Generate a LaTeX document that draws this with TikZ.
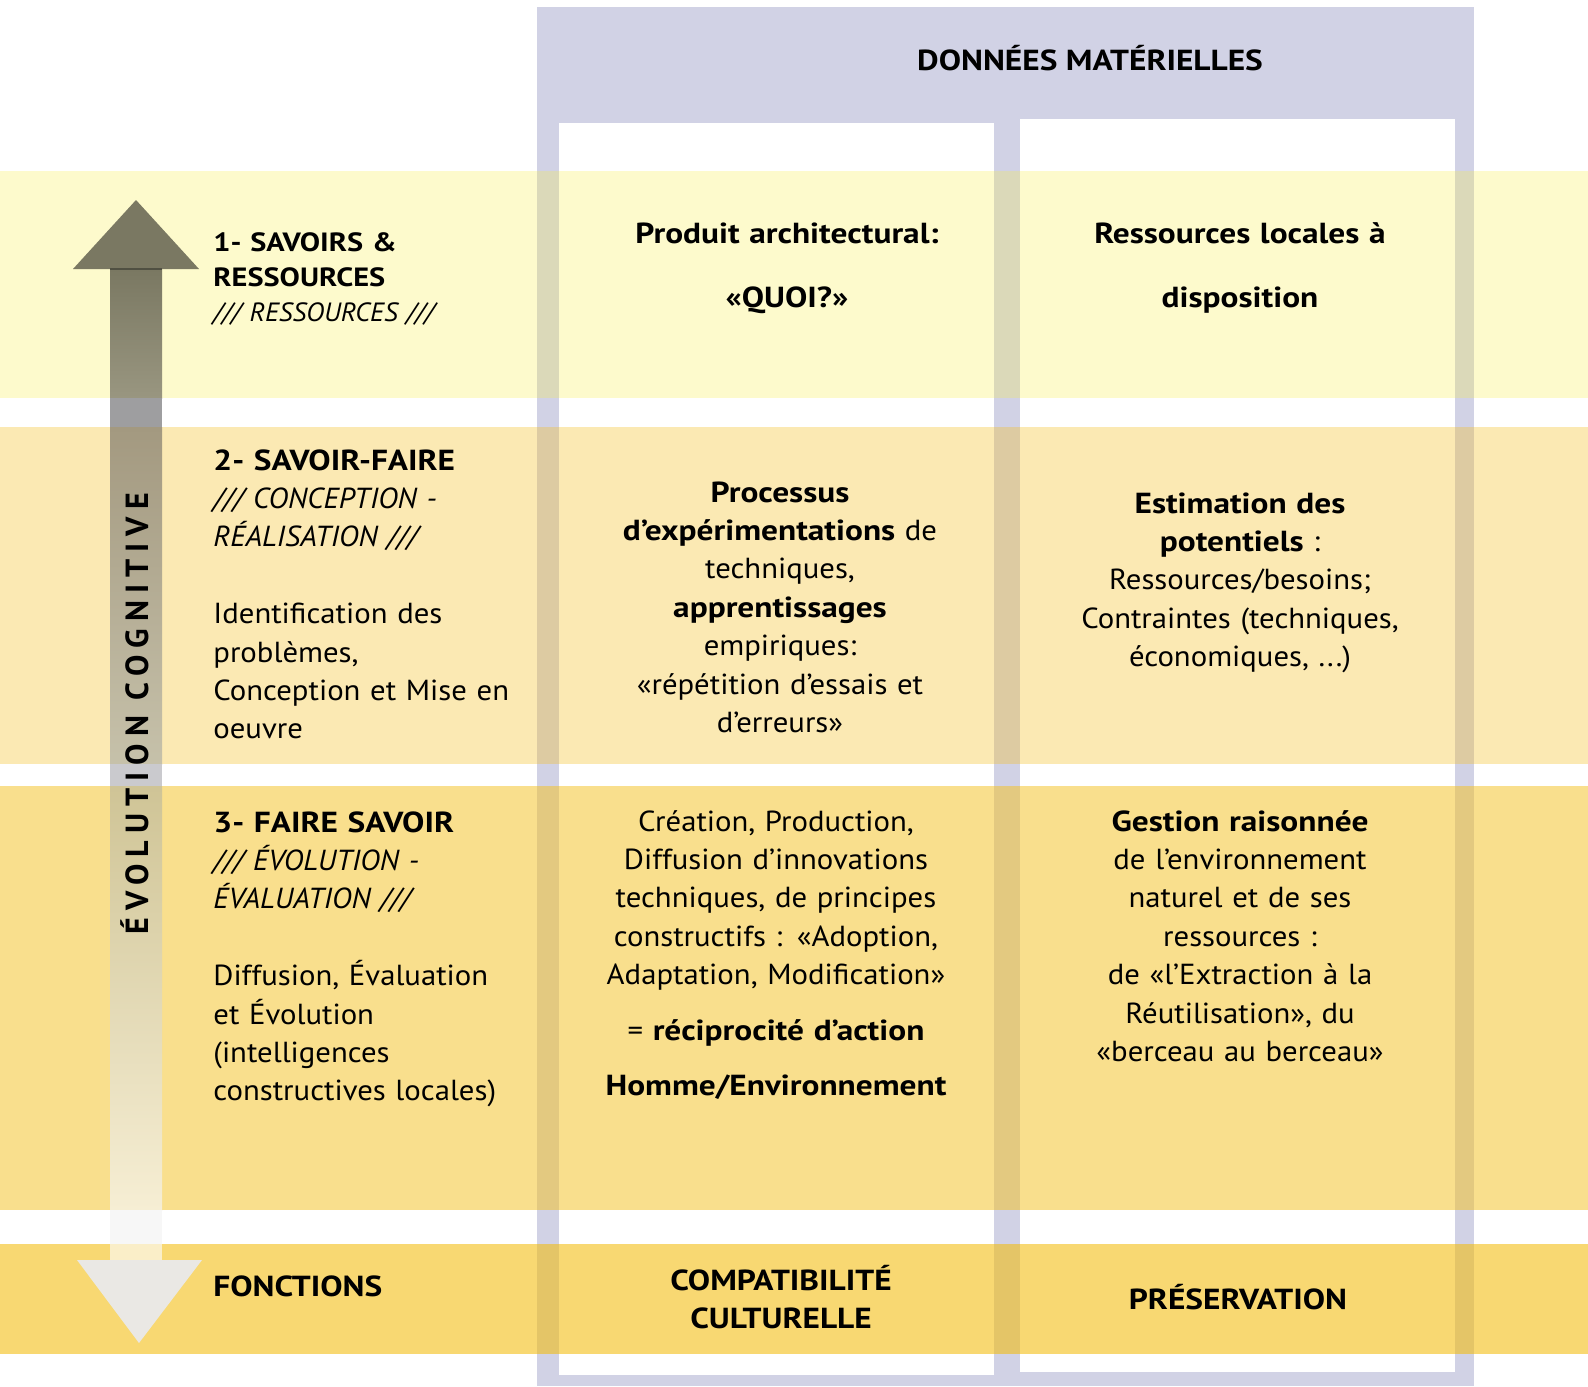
\documentclass[tikz,border=0pt]{standalone}
\usepackage{fontspec}
\setmainfont{PT Sans}[UprightFeatures={FakeStretch=1.06}, BoldFeatures={FakeStretch=1.15}, ItalicFeatures={FakeStretch=1.03}]
\newfontfamily\spacedfont[LetterSpace=22]{PT Sans}
\definecolor{lav}{RGB}{209,210,229}
\definecolor{bandA}{RGB}{251,239,55}
\definecolor{bandB}{RGB}{246,192,38}
\definecolor{bandC}{RGB}{245,193,29}
\definecolor{bandD}{RGB}{244,187,5}
\definecolor{upc}{RGB}{122,120,98}
\definecolor{downc}{RGB}{234,232,228}
\definecolor{sa}{RGB}{122,120,98}
\definecolor{sb}{RGB}{153,150,128}
\definecolor{sg1}{RGB}{158,158,160}
\definecolor{sc}{RGB}{163,153,128}
\definecolor{sd}{RGB}{198,193,170}
\definecolor{sg2}{RGB}{202,202,206}
\definecolor{se}{RGB}{207,196,150}
\definecolor{sf}{RGB}{246,238,212}
\definecolor{sg3}{RGB}{247,247,247}
\definecolor{sh}{RGB}{250,238,200}
\definecolor{sline}{RGB}{80,80,66}
\begin{document}
\begin{tikzpicture}[x=0.5pt,y=-0.5pt,
  body/.style={inner sep=0pt, font=\fontsize{14.5}{19.2}\selectfont},
  lefttxt/.style={body, anchor=base west, text width=200pt, align=left},
  ctxt/.style={body, anchor=base, text width=225pt, align=center},
  band/.style={fill opacity=#1}]
\useasboundingbox (0,0) rectangle (1588,1386);
\fill[white] (0,0) rectangle (1588,1386);
% material data panel
\fill[lav] (537,7) rectangle (1474,1386);
\fill[white] (559,123) rectangle (994,1375);
\fill[white] (1020,119) rectangle (1455,1372);
% horizontal bands
\fill[bandA, band=0.25] (0,171) rectangle (1588,398);
\fill[bandB, band=0.35] (0,427) rectangle (1588,764);
\fill[bandC, band=0.50] (0,786) rectangle (1588,1210);
\fill[bandD, band=0.56] (0,1244) rectangle (1588,1354);
% cognitive evolution arrow (shaft in segments)
\shade[top color=sa, bottom color=sb] (110,269) rectangle (162,398);
\fill[sg1] (110,398) rectangle (162,427);
\shade[top color=sc, bottom color=sd] (110,427) rectangle (162,764);
\fill[sg2] (110,764) rectangle (162,786);
\shade[top color=se, bottom color=sf] (110,786) rectangle (162,1210);
\fill[sg3] (110,1210) rectangle (162,1244);
\fill[sh] (110,1244) rectangle (162,1262);
\fill[upc] (136,200) -- (199,269) -- (73,269) -- cycle;
\draw[sline, line width=1pt] (110,269) -- (162,269);
\fill[downc] (77,1260) -- (202,1260) -- (139,1343) -- cycle;
\node[rotate=90, inner sep=0pt, font=\spacedfont\bfseries\fontsize{16}{16}\selectfont] (evo) at (135,714) {ÉVOLUTION COGNITIVE};
% header
\node[body, anchor=base] (head) at (1090,71) {\textbf{DONNÉES MATÉRIELLES}};
% left column
\node[lefttxt, font=\fontsize{13.2}{17.5}\selectfont] (l1) at (213,251)
  {\textbf{1- SAVOIRS \&}\\\textbf{RESSOURCES}\\\textit{/// RESSOURCES ///}};
\node[lefttxt] (l2) at (213,470)
  {\textbf{2- SAVOIR-FAIRE}\\\textit{/// CONCEPTION -}\\\textit{RÉALISATION ///}\\[19.2pt]Identification des\\problèmes,\\Conception et Mise en\\oeuvre};
\node[lefttxt] (l3) at (213,832)
  {\textbf{3- FAIRE SAVOIR}\\\textit{/// ÉVOLUTION -}\\\textit{ÉVALUATION ///}\\[19.2pt]Diffusion, Évaluation\\et Évolution\\(intelligences\\constructives locales)};
\node[lefttxt] (l4) at (213,1296) {\textbf{FONCTIONS}};
% middle column
\node[ctxt] (m1) at (787,243) {\textbf{Produit architectural:}\\[12.8pt]\textbf{«QUOI?»}};
\node[ctxt] (m2) at (780,502)
  {\textbf{Processus}\\\textbf{d’expérimentations} de\\techniques,\\\textbf{apprentissages}\\empiriques:\\«répétition d’essais et\\d’erreurs»};
\node[ctxt] (m3) at (776,831)
  {Création, Production,\\Diffusion d’innovations\\techniques, de principes\\constructifs : «Adoption,\\Adaptation, Modification»\\[8.5pt]= \textbf{réciprocité d’action}\\[8.5pt]\textbf{Homme/Environnement}};
\node[ctxt] (m4) at (781,1290) {\textbf{COMPATIBILITÉ}\\\textbf{CULTURELLE}};
% right column
\node[ctxt] (r1) at (1240,243) {\textbf{Ressources locales à}\\[12.8pt]\textbf{disposition}};
\node[ctxt] (r2) at (1240,513)
  {\textbf{Estimation des}\\\textbf{potentiels} :\\Ressources/besoins;\\Contraintes (techniques,\\économiques, ...)};
\node[ctxt] (r3) at (1240,831)
  {\textbf{Gestion raisonnée}\\de l’environnement\\naturel et de ses\\ressources :\\de «l’Extraction à la\\Réutilisation», du\\«berceau au berceau»};
\node[ctxt] (r4) at (1238,1309) {\textbf{PRÉSERVATION}};
\end{tikzpicture}
\end{document}
